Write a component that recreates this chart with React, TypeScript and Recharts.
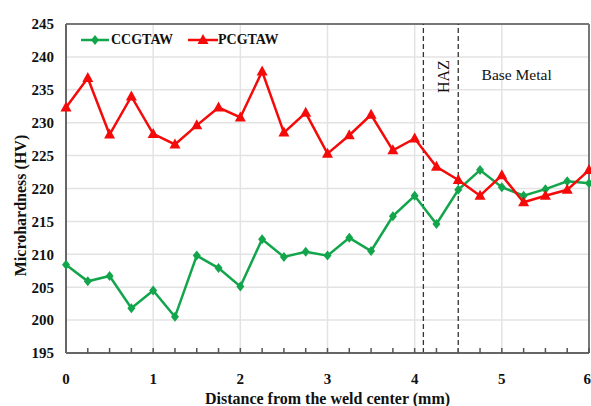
import { LineChart, Line, XAxis, YAxis, CartesianGrid, ReferenceLine, ReferenceDot } from "recharts";

const distance = [0, 0.25, 0.5, 0.75, 1, 1.25, 1.5, 1.75, 2, 2.25, 2.5, 2.75, 3, 3.25, 3.5, 3.75, 4, 4.25, 4.5, 4.75, 5, 5.25, 5.5, 5.75, 6];
const ccgtaw = [208.4, 205.9, 206.7, 201.8, 204.5, 200.5, 209.8, 207.9, 205.1, 212.3, 209.6, 210.4, 209.8, 212.5, 210.5, 215.8, 218.9, 214.6, 219.8, 222.8, 220.2, 218.9, 219.9, 221.1, 220.8];
const pcgtaw = [232.3, 236.8, 228.2, 234.0, 228.3, 226.7, 229.6, 232.3, 230.8, 237.8, 228.5, 231.5, 225.3, 228.1, 231.2, 225.8, 227.6, 223.3, 221.3, 218.9, 222.0, 217.9, 218.9, 219.8, 222.8];
const xTicks = [0, 1, 2, 3, 4, 5, 6];
const yTicks = [195, 200, 205, 210, 215, 220, 225, 230, 235, 240, 245];
const hazBounds = [4.1, 4.5];

const GREEN = "#12a54b";
const RED = "#f50a0a";
const FONT = "'Liberation Serif', 'Times New Roman', serif";

const data = distance.map((d, i) => ({ d, ccgtaw: ccgtaw[i], pcgtaw: pcgtaw[i] }));

// marker shapes
const Diamond = (props: any) => {
  const { cx, cy } = props;
  if (cx == null || cy == null) return null;
  return <polygon points={`${cx},${cy - 5} ${cx + 4},${cy} ${cx},${cy + 5} ${cx - 4},${cy}`} fill={GREEN} />;
};
const Triangle = (props: any) => {
  const { cx, cy } = props;
  if (cx == null || cy == null) return null;
  return <polygon points={`${cx},${cy - 6} ${cx + 5.5},${cy + 4} ${cx - 5.5},${cy + 4}`} fill={RED} />;
};

// y title sits a bit below the plot middle in the original
const YTitle = (props: any) => {
  const vb = props.viewBox || {};
  const x = (vb.x ?? 0) + 20;
  const y = (vb.y ?? 0) + (vb.height ?? 0) / 2 + 17;
  return (
    <text x={x} y={y} transform={`rotate(-90 ${x} ${y})`} textAnchor="middle" dominantBaseline="central"
      style={{ fontFamily: FONT, fontWeight: "bold", fontSize: 16, fill: "#111" }}>
      Microhardness (HV)
    </text>
  );
};

// legend sits inside the plot, top-left
const LegendBox = () => (
  <div style={{ position: "absolute", left: 81, top: 32, display: "flex", alignItems: "center", fontFamily: FONT, fontWeight: "bold", fontSize: 14, color: "#111", lineHeight: "16px" }}>
    <svg width={29} height={12}>
      <line x1={0} y1={6} x2={28} y2={6} stroke={GREEN} strokeWidth={2.5} />
      <polygon points="14,1 18,6 14,11 10,6" fill={GREEN} />
    </svg>
    <span style={{ marginLeft: 1 }}>CCGTAW</span>
    <svg width={30} height={12} style={{ marginLeft: 15 }}>
      <line x1={0} y1={6} x2={30} y2={6} stroke={RED} strokeWidth={2.5} />
      <polygon points="15,0 20.5,10 9.5,10" fill={RED} />
    </svg>
    <span>PCGTAW</span>
  </div>
);

const tickStyle = { fontFamily: FONT, fontWeight: "bold", fontSize: 15, fill: "#111" };

export default function App() {
  return (
    <div style={{ position: "absolute", left: 0, top: 0, width: 591, height: 406, background: "#fff" }}>
      <LineChart width={591} height={406} data={data} margin={{ top: 24, right: 2, left: 0, bottom: 0 }}>
        <CartesianGrid stroke="#e3e3e3" strokeWidth={1.5} />
        <XAxis
          dataKey="d"
          type="number"
          domain={[0, 6]}
          ticks={xTicks}
          tickLine={false}
          axisLine={{ stroke: "#666", strokeWidth: 2 }}
          tick={tickStyle}
          tickMargin={14}
          height={53}
          label={{ value: "Distance from the weld center (mm)", position: "insideBottom", offset: 2, style: { fontFamily: FONT, fontWeight: "bold", fontSize: 16, fill: "#111" } }}
        />
        <XAxis
          xAxisId="minor"
          dataKey="d"
          type="number"
          domain={[0, 6]}
          ticks={distance}
          mirror
          axisLine={false}
          tickLine={{ stroke: "#555", strokeWidth: 1.5 }}
          tickSize={5}
          tickFormatter={() => ""}
        />
        <YAxis
          type="number"
          domain={[195, 245]}
          ticks={yTicks}
          width={66}
          tickLine={false}
          axisLine={{ stroke: "#666", strokeWidth: 2 }}
          tick={tickStyle}
          tickMargin={6}
          label={<YTitle />}
        />
        <ReferenceLine y={245} stroke="#777" strokeWidth={2} />
        <ReferenceLine x={6} stroke="#777" strokeWidth={2} />
        {hazBounds.map((b) => (
          <ReferenceLine key={b} x={b} stroke="#333" strokeWidth={1.3} strokeDasharray="5 3" />
        ))}
        <ReferenceDot x={4.33} y={237} r={0} label={{ value: "HAZ", angle: -90, position: "center", style: { fontFamily: FONT, fontSize: 16, fill: "#111" } }} />
        <ReferenceDot x={5.17} y={237.4} r={0} label={{ value: "Base Metal", position: "center", style: { fontFamily: FONT, fontSize: 15.5, fill: "#111" } }} />
        <Line dataKey="ccgtaw" name="CCGTAW" stroke={GREEN} strokeWidth={2.5} dot={<Diamond />} isAnimationActive={false} />
        <Line dataKey="pcgtaw" name="PCGTAW" stroke={RED} strokeWidth={2.5} dot={<Triangle />} isAnimationActive={false} />
      </LineChart>
      <LegendBox />
    </div>
  );
}
